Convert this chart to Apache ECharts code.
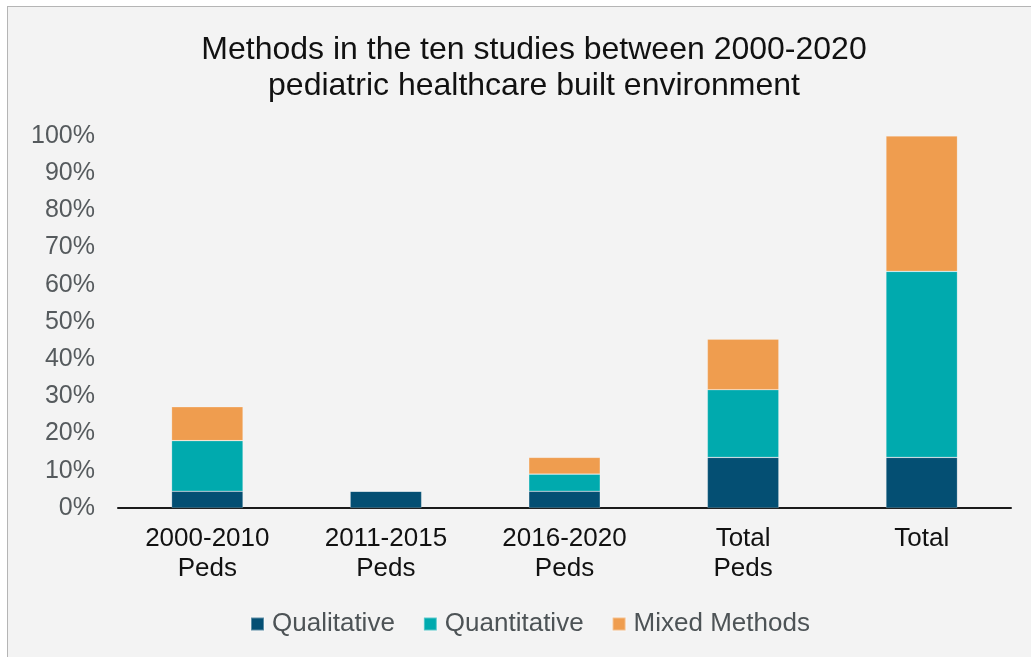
<!DOCTYPE html>
<html>
<head>
<meta charset="utf-8">
<script src="https://cdn.jsdelivr.net/npm/echarts@6/dist/echarts.min.js"></script>
<style>
html,body{margin:0;padding:0;background:#ffffff;}
#wrap{position:absolute;left:7px;top:6px;width:1030px;height:657px;background:#f3f3f3;border-left:1px solid #b5b5b5;border-top:1px solid #b5b5b5;}
#chart{position:absolute;left:-8px;top:-7px;width:1031px;height:657px;}
</style>
</head>
<body>
<div id="wrap"><div id="chart"></div></div>
<script>
var categories = ['2000-2010\nPeds', '2011-2015\nPeds', '2016-2020\nPeds', 'Total\nPeds', 'Total'];
var qualitative = [4.5, 4.5, 4.5, 13.6, 13.6];
var quantitative = [13.6, 0, 4.6, 18.2, 50.0];
var mixedMethods = [9.1, 0, 4.5, 13.6, 36.4];
var yTicks = [0, 10, 20, 30, 40, 50, 60, 70, 80, 90, 100];

var font = 'Liberation Sans, Arial, sans-serif';
var chart = echarts.init(document.getElementById('chart'), null, {renderer: 'canvas'});
function ser(name, data, color) {
  return {
    name: name, type: 'bar', stack: 'a', data: data,
    barWidth: '40%',
    itemStyle: {color: color, borderColor: 'rgba(255,255,255,0.35)', borderWidth: 0.6},
    emphasis: {disabled: true}
  };
}
chart.setOption({
  backgroundColor: 'transparent',
  animation: false,
  title: {
    text: 'Methods in the ten studies between 2000-2020\npediatric healthcare built environment',
    left: 529, top: 27, textAlign: 'center',
    textStyle: {fontFamily: font, fontSize: 32, fontWeight: 'normal', color: '#111111', lineHeight: 36}
  },
  legend: {
    top: 606, left: 245,
    itemWidth: 13, itemHeight: 13, itemGap: 28,
    icon: 'rect',
    textStyle: {fontFamily: font, fontSize: 26, color: '#4d5356', padding: [0, 0, 0, 3]},
    data: ['Qualitative', 'Quantitative', 'Mixed Methods']
  },
  grid: {left: 118, right: 20, top: 136, bottom: 149, containLabel: false},
  xAxis: {
    type: 'category', data: categories,
    axisLine: {lineStyle: {color: '#1a1a1a', width: 2}},
    axisTick: {show: false},
    axisLabel: {fontFamily: font, fontSize: 26, color: '#111111', lineHeight: 30, margin: 16, interval: 0}
  },
  yAxis: {
    type: 'value', min: yTicks[0], max: yTicks[yTicks.length - 1], interval: 10,
    axisLine: {show: false}, axisTick: {show: false}, splitLine: {show: false},
    axisLabel: {fontFamily: font, fontSize: 25, color: '#555a5d', margin: 23, formatter: '{value}%'}
  },
  series: [
    ser('Qualitative', qualitative, '#044f73'),
    ser('Quantitative', quantitative, '#00aaae'),
    ser('Mixed Methods', mixedMethods, '#ef9d4f')
  ]
});
</script>
</body>
</html>
